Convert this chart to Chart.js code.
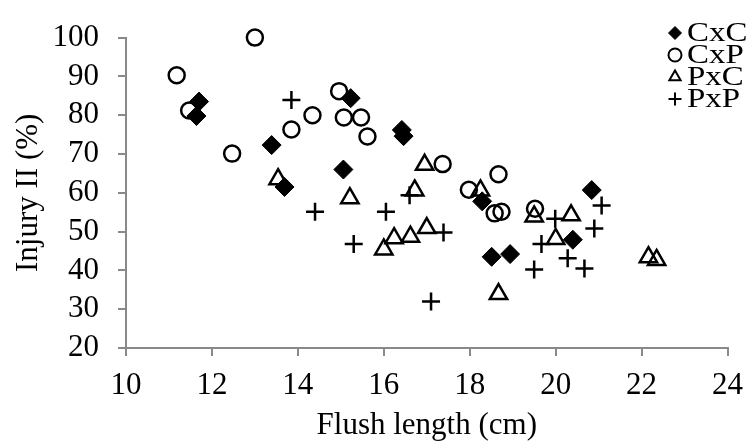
<!DOCTYPE html>
<html>
<head>
<meta charset="utf-8">
<script src="https://cdn.jsdelivr.net/npm/chart.js@4.4.0/dist/chart.umd.min.js"></script>
<style>
  html, body { margin: 0; padding: 0; background: #fff; }
  #wrap { width: 754px; height: 444px; }
</style>
</head>
<body>
<div id="wrap"><canvas id="myChart" width="754" height="444"></canvas></div>
<script>
const seriesNames = ['CxC', 'CxP', 'PxC', 'PxP']

// flush length (cm) / injury II (%)
const cxcX = [11.7, 11.64, 13.39, 13.69, 15.23, 15.06, 16.42, 16.46, 18.29, 18.51, 18.94, 20.4, 20.84]
const cxcY = [83.5, 79.8, 72.3, 61.5, 84.4, 66.0, 76.2, 74.6, 57.8, 43.5, 44.2, 47.9, 60.7]

const cxpX = [13.0, 11.18, 11.47, 13.85, 14.34, 12.47, 14.96, 15.07, 15.47, 15.62, 17.37, 18.67, 17.98, 18.58, 18.74, 19.52]
const cxpY = [100, 90.3, 81.2, 76.3, 80.0, 70.1, 86.2, 79.4, 79.4, 74.5, 67.4, 64.8, 60.8, 54.7, 55.1, 55.9]

const pxcX = [13.54, 15.21, 16.72, 16.95, 18.25, 16.0, 16.24, 16.62, 17.0, 18.67, 19.5, 20.36, 20.0, 22.16, 22.35]
const pxcY = [63.5, 58.6, 60.6, 67.2, 60.6, 45.4, 48.3, 48.7, 50.9, 33.9, 53.9, 54.2, 48.1, 43.4, 42.7]

const pxpX = [13.85, 14.4, 15.3, 16.05, 16.6, 17.39, 17.1, 19.5, 19.67, 19.99, 20.28, 20.67, 21.07, 20.9]
const pxpY = [83.9, 55.1, 46.8, 55.1, 59.4, 49.8, 32.0, 40.2, 46.8, 53.3, 43.1, 40.5, 56.7, 50.8]

const xTitle = 'Flush length (cm)'
const yTitle = 'Injury II (%)'

const toPoints = (xs, ys) => xs.map((x, i) => ({ x: x, y: ys[i] }))

const axisGray = '#898989'
const serif = 'Liberation Serif'

const styles = [
  { pointStyle: 'rectRot', pointRadius: 9.5, borderWidth: 1, backgroundColor: '#000' },
  { pointStyle: 'circle', pointRadius: 8, borderWidth: 2.5, backgroundColor: 'rgba(0,0,0,0)' },
  { pointStyle: 'triangle', pointRadius: 10, borderWidth: 2.5, backgroundColor: 'rgba(0,0,0,0)' },
  { pointStyle: 'cross', pointRadius: 9, borderWidth: 2.5, backgroundColor: 'rgba(0,0,0,0)' }
]

const allData = [toPoints(cxcX, cxcY), toPoints(cxpX, cxpY), toPoints(pxcX, pxcY), toPoints(pxpX, pxpY)]

// legend sits inside the plot, top right; its text is a bit wide in the original
const insideLegend = {
  id: 'insideLegend',
  afterDraw(chart) {
    const ctx = chart.ctx
    ctx.save()
    ctx.font = '27px "' + serif + '"'
    ctx.textAlign = 'left'
    ctx.textBaseline = 'middle'
    chart.data.datasets.forEach((ds, i) => {
      const y = 33 + i * 22
      ctx.strokeStyle = '#000'
      ctx.fillStyle = i === 0 ? '#000' : 'rgba(0,0,0,0)'
      ctx.lineWidth = i === 0 ? 1 : 2
      Chart.helpers.drawPoint(ctx, {
        pointStyle: ds.pointStyle,
        radius: 6.5,
        rotation: 0,
        borderWidth: ctx.lineWidth
      }, 675, y)
      ctx.fillStyle = '#000'
      ctx.save()
      ctx.translate(687, y + 1)
      ctx.scale(1.22, 1)
      ctx.fillText(ds.label, 0, 0)
      ctx.restore()
    })
    ctx.restore()
  }
}

const ctx = document.getElementById('myChart').getContext('2d')
const myChart = new Chart(ctx, {
  type: 'scatter',
  data: {
    datasets: seriesNames.map((name, i) => ({
      label: name,
      data: allData[i],
      pointStyle: styles[i].pointStyle,
      pointRadius: styles[i].pointRadius,
      pointHoverRadius: styles[i].pointRadius,
      borderWidth: styles[i].borderWidth,
      borderColor: '#000',
      backgroundColor: styles[i].backgroundColor,
      clip: false
    }))
  },
  options: {
    responsive: false,
    animation: false,
    layout: { padding: { left: 0, right: 19, top: 24, bottom: 0 } },
    plugins: {
      legend: { display: false },
      tooltip: { enabled: false }
    },
    scales: {
      x: {
        type: 'linear',
        min: 10,
        max: 24,
        afterFit: s => { s.height = 96 },
        ticks: { stepSize: 2, autoSkip: false, maxRotation: 0, color: '#000', padding: 11, font: { family: serif, size: 31 } },
        grid: { drawOnChartArea: false, tickLength: 8, color: axisGray, lineWidth: 2 },
        border: { color: axisGray, width: 2 },
        title: { display: true, text: xTitle, color: '#000', padding: { top: 0, bottom: 0 }, font: { family: serif, size: 31 } }
      },
      y: {
        type: 'linear',
        min: 20,
        max: 100,
        afterFit: s => { s.width = 126 },
        ticks: { stepSize: 10, autoSkip: false, color: '#000', padding: 19, font: { family: serif, size: 31 } },
        grid: { drawOnChartArea: false, tickLength: 8, color: axisGray, lineWidth: 2 },
        border: { color: axisGray, width: 2 },
        title: { display: true, text: yTitle, color: '#000', padding: { top: 10, bottom: 0 }, font: { family: serif, size: 31 } }
      }
    }
  },
  plugins: [insideLegend]
})
</script>
</body>
</html>
